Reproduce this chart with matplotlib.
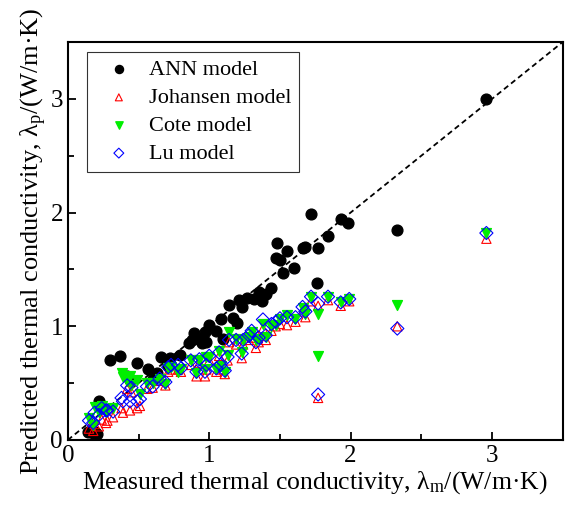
import matplotlib
matplotlib.use("Agg")
import matplotlib.pyplot as plt
import numpy as np

plt.rcParams['font.family'] = ['Liberation Serif', 'DejaVu Serif']
plt.rcParams['mathtext.fontset'] = 'custom'
plt.rcParams['mathtext.rm'] = 'Liberation Serif'
plt.rcParams['mathtext.it'] = 'Liberation Serif:italic'

# ANN model (measured, predicted)
ann_x = [0.14, 0.18, 0.19, 0.21, 0.22, 0.30, 0.37, 0.42, 0.44, 0.49, 0.57, 0.60, 0.63,
         0.66, 0.71, 0.72, 0.79, 0.86, 0.88, 0.89, 0.93, 0.95, 0.97, 0.98, 1.00, 1.05,
         1.08, 1.10, 1.14, 1.17, 1.20, 1.21, 1.23, 1.27, 1.32, 1.35, 1.37, 1.40, 1.44,
         1.47, 1.48, 1.50, 1.52, 1.55, 1.60, 1.66, 1.68, 1.72, 1.76, 1.77, 1.84, 1.93,
         1.98, 2.33, 2.96]
ann_y = [0.07, 0.06, 0.07, 0.05, 0.34, 0.70, 0.74, 0.56, 0.53, 0.68, 0.62, 0.54, 0.59,
         0.73, 0.65, 0.72, 0.75, 0.85, 0.88, 0.94, 0.89, 0.85, 0.95, 0.86, 1.01, 0.96,
         1.06, 0.89, 1.19, 1.07, 1.03, 1.23, 1.17, 1.25, 1.24, 1.30, 1.22, 1.28, 1.34,
         1.60, 1.73, 1.58, 1.47, 1.66, 1.51, 1.69, 1.70, 1.99, 1.38, 1.69, 1.79, 1.94,
         1.91, 1.85, 3.00]

# empirical models share the measured values
meas = [0.15, 0.18, 0.19, 0.22, 0.24, 0.27, 0.28, 0.32, 0.38, 0.39, 0.42, 0.44, 0.45,
        0.49, 0.51, 0.56, 0.60, 0.65, 0.69, 0.71, 0.73, 0.78, 0.80, 0.87, 0.91, 0.93,
        0.97, 0.98, 1.00, 1.05, 1.07, 1.08, 1.11, 1.13, 1.14, 1.19, 1.23, 1.24, 1.28,
        1.30, 1.33, 1.35, 1.38, 1.40, 1.44, 1.47, 1.50, 1.55, 1.61, 1.66, 1.68, 1.72,
        1.77, 1.77, 1.84, 1.93, 1.99, 2.33, 2.96]
johansen = [0.10, 0.08, 0.14, 0.12, 0.18, 0.15, 0.17, 0.20, 0.28, 0.24, 0.45, 0.26, 0.42,
            0.28, 0.30, 0.45, 0.46, 0.52, 0.48, 0.60, 0.62, 0.62, 0.60, 0.66, 0.56, 0.68,
            0.56, 0.62, 0.70, 0.60, 0.74, 0.62, 0.58, 0.70, 0.86, 0.84, 0.72, 0.84, 0.88,
            0.90, 0.81, 0.86, 0.98, 0.88, 0.96, 1.00, 1.02, 1.01, 1.04, 1.13, 1.08, 1.22,
            1.18, 0.37, 1.23, 1.18, 1.22, 1.00, 1.77]
cote = [0.19, 0.13, 0.29, 0.25, 0.30, 0.25, 0.27, 0.28, 0.59, 0.55, 0.52, 0.56, 0.48,
        0.53, 0.40, 0.50, 0.50, 0.54, 0.49, 0.63, 0.64, 0.60, 0.62, 0.70, 0.59, 0.70,
        0.62, 0.73, 0.73, 0.62, 0.78, 0.65, 0.60, 0.75, 0.95, 0.89, 0.77, 0.88, 0.91,
        0.95, 0.88, 0.89, 1.02, 0.91, 1.00, 1.01, 1.06, 1.10, 1.06, 1.16, 1.11, 1.26,
        1.11, 0.74, 1.26, 1.21, 1.24, 1.19, 1.82]
lu = [0.17, 0.15, 0.24, 0.22, 0.28, 0.26, 0.26, 0.25, 0.37, 0.34, 0.48, 0.34, 0.46,
      0.34, 0.36, 0.47, 0.47, 0.54, 0.51, 0.64, 0.66, 0.66, 0.63, 0.70, 0.60, 0.71,
      0.60, 0.66, 0.74, 0.63, 0.77, 0.66, 0.61, 0.73, 0.88, 0.88, 0.76, 0.88, 0.92,
      0.96, 0.86, 0.90, 1.06, 0.92, 1.02, 1.04, 1.07, 1.08, 1.08, 1.17, 1.13, 1.26,
      1.20, 0.40, 1.26, 1.21, 1.24, 0.98, 1.82]

fig = plt.figure(figsize=(5.65, 5.09), dpi=100)
ax = fig.add_axes([0.120, 0.1356, 0.876, 0.7819])

ax.plot([0, 3.5], [0, 3.5], linestyle=(0, (3, 2)), color='black', linewidth=1.3, zorder=1)

ax.scatter(ann_x, ann_y, s=60, c='black', marker='o', label='ANN model', zorder=3)
ax.scatter(meas, johansen, s=45, facecolors='none', edgecolors='red', marker='^',
           linewidths=0.8, label='Johansen model', zorder=4)
ax.scatter(meas, cote, s=50, c='#00ee00', marker='v', label='Cote model', zorder=5)
ax.scatter(meas, lu, s=45, facecolors='none', edgecolors='blue', marker='D',
           linewidths=0.8, label='Lu model', zorder=6)

ax.set_xlim(0, 3.5)
ax.set_ylim(0, 3.5)
ax.set_xticks([0, 1, 2, 3])
ax.set_yticks([0, 1, 2, 3])
ax.set_xticks(np.arange(0.5, 3.5, 1), minor=True)
ax.set_yticks(np.arange(0.5, 3.5, 1), minor=True)
ax.tick_params(which='both', direction='in', top=False, right=False, labelsize=18, width=1.3)
ax.tick_params(which='major', length=6)
ax.tick_params(which='minor', length=4)
for s in ax.spines.values():
    s.set_linewidth(1.5)

ax.set_xlabel('Measured thermal conductivity, λ$_\\mathrm{m}$/(W/m·K)', fontsize=18.5, labelpad=2)
ax.set_ylabel('Predicted thermal conductivity, λ$_\\mathrm{p}$/(W/m·K)', fontsize=19, labelpad=1)

leg = ax.legend(loc='upper left', bbox_to_anchor=(0.038, 0.975), borderaxespad=0,
                fontsize=16, frameon=True, fancybox=False, edgecolor='black',
                handletextpad=0.25, borderpad=0.35, labelspacing=0.33, handlelength=2.2,
                markerscale=0.75)
leg.get_frame().set_linewidth(0.8)

fig.savefig('out.png', dpi=100)
